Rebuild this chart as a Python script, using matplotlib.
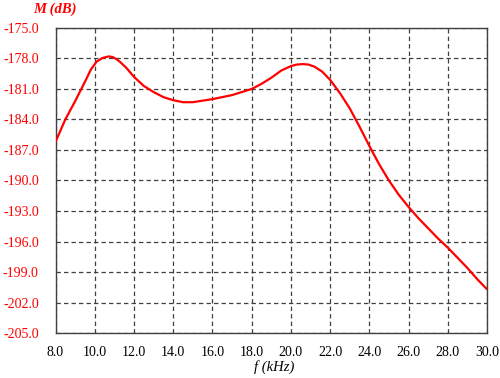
import matplotlib
matplotlib.use("Agg")
import matplotlib.pyplot as plt

freq_khz = [8.0, 8.5, 9.0, 9.5, 9.8, 10.1, 10.4, 10.7, 10.9, 11.1, 11.3, 11.6, 12.0, 12.5, 13.0, 13.5,
            14.0, 14.5, 15.0, 16.0, 17.0, 18.0, 18.5, 19.0, 19.5, 20.0, 20.3, 20.6, 20.9, 21.2, 21.6,
            22.0, 22.5, 23.0, 23.5, 24.0, 24.5, 25.0, 25.5, 26.0, 26.5, 27.0, 27.5, 28.0, 28.5, 29.0, 29.5, 30.0]
magnitude_db = [-186.2, -184.0, -182.2, -180.3, -179.1, -178.3, -177.95, -177.8, -177.85, -178.05,
                -178.35, -178.9, -179.8, -180.7, -181.3, -181.8, -182.1, -182.3, -182.3, -182.0,
                -181.6, -181.0, -180.5, -179.9, -179.2, -178.75, -178.6, -178.55, -178.6, -178.8,
                -179.3, -180.1, -181.4, -182.9, -184.7, -186.6, -188.4, -190.0, -191.4, -192.6,
                -193.7, -194.7, -195.7, -196.6, -197.6, -198.6, -199.7, -200.7]
x_ticks = [8, 10, 12, 14, 16, 18, 20, 22, 24, 26, 28, 30]
y_ticks = [-205, -202, -199, -196, -193, -190, -187, -184, -181, -178, -175]

serif = ["Liberation Serif", "DejaVu Serif"]

fig = plt.figure(figsize=(5.0, 3.78), dpi=100)
ax = fig.add_axes([0.111, 0.119, 0.863, 0.807])

ax.plot(freq_khz, magnitude_db, color="#ff0000", lw=1.6, zorder=3,
        solid_joinstyle="round", solid_capstyle="round")

ax.set_xlim(8, 30)
ax.set_ylim(-205, -175)
ax.set_xticks(x_ticks)
ax.set_yticks(y_ticks)
ax.set_xticklabels([f"{v:.1f}" for v in x_ticks], fontfamily=serif, fontsize=10, color="black")
ax.set_yticklabels([f"{v:.1f}" for v in y_ticks], fontfamily=serif, fontsize=10, color="#ff0000")
ax.tick_params(axis="both", length=0)
ax.tick_params(axis="y", pad=12)
ax.tick_params(axis="x", pad=9)

ax.grid(True, color="#404040", linestyle=(0, (3.5, 2.5)), lw=0.9)
for s in ax.spines.values():
    s.set_color("#404040")
    s.set_linewidth(1.0)

fig.text(0.066, 0.976, "M (dB)", color="#ff0000", fontfamily=serif, fontsize=10.5,
         fontstyle="italic", fontweight="bold", ha="left", va="center")
fig.text(0.548, 0.03, "f (kHz)", color="black", fontfamily=serif, fontsize=10.5,
         fontstyle="italic", ha="center", va="center")

fig.savefig("out.png", dpi=100)
